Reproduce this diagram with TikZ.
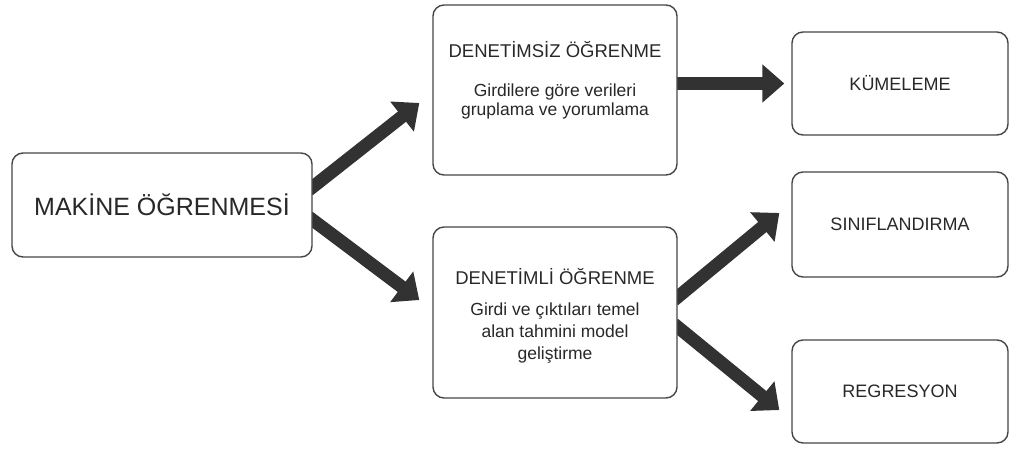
\documentclass[tikz,border=0pt]{standalone}
\usepackage{fontspec}
\setmainfont{Liberation Sans}
\usepackage{tikz}
\usetikzlibrary{arrows.meta}
\usetikzlibrary{positioning}
\usetikzlibrary{backgrounds}

\definecolor{boxline}{RGB}{70,70,70}
\definecolor{arrowgray}{RGB}{50,50,50}
\definecolor{txtgray}{RGB}{40,40,40}

\begin{document}
\begin{tikzpicture}[x=1pt,y=-1pt,
  box/.style={draw=boxline,fill=white,line width=1.4pt,rounded corners=11pt,inner sep=0pt},
  bigarrow/.style={arrowgray,line width=13pt,-{Triangle[length=22pt,width=37pt]},shorten <=-5pt},
  txt/.style={text=txtgray,inner sep=0pt}]

\useasboundingbox (0,0) rectangle (1010,450);

\node[box,minimum width=300pt,minimum height=104pt,text=txtgray,font=\fontsize{25}{30}\selectfont] (main) at (162,205) {MAKİNE ÖĞRENMESİ};

\node[box,minimum width=244pt,minimum height=170pt] (unsup) at (555,90) {};
\node[box,minimum width=244pt,minimum height=171pt] (sup) at (555,312.5) {};

\node[box,minimum width=216pt,minimum height=103pt,text=txtgray,font=\fontsize{18}{21}\selectfont] (kume) at (900,83.5) {KÜMELEME};
\node[box,minimum width=216pt,minimum height=105pt,text=txtgray,font=\fontsize{18}{21}\selectfont] (sinif) at (900,224.5) {SINIFLANDIRMA};
\node[box,minimum width=216pt,minimum height=103pt,text=txtgray,font=\fontsize{18}{21}\selectfont] (regr) at (900,391.5) {REGRESYON};

% box texts
\node[txt,font=\fontsize{18.5}{22}\selectfont] (unsuptitle) at ([yshift=-45pt]unsup.north) {DENETİMSİZ ÖĞRENME};
\node[txt,anchor=north,align=center,font=\fontsize{17.5}{19.5}\selectfont] (unsupbody) at ([yshift=-79pt]unsup.north) {Girdilere göre verileri\\gruplama ve yorumlama};

\node[txt,font=\fontsize{18.5}{22}\selectfont] (suptitle) at ([yshift=-50pt]sup.north) {DENETİMLİ ÖĞRENME};
\node[txt,anchor=north,align=center,font=\fontsize{17.5}{22}\selectfont] (supbody) at ([yshift=-76pt]sup.north) {Girdi ve çıktıları temel\\alan tahmini model\\geliştirme};

\begin{pgfonlayer}{background}
\draw[bigarrow] ([yshift=18pt]main.east) -- ([xshift=-13pt,yshift=-13pt]unsup.west); %1
\draw[bigarrow] ([yshift=-15pt]main.east) -- ([xshift=-13pt,yshift=12.5pt]sup.west); %2
\draw[bigarrow] (unsup.east |- kume.west) -- ([xshift=-7pt]kume.west); %3
\draw[bigarrow] ([yshift=15.5pt]sup.east) -- ([xshift=-12pt,yshift=11.5pt]sinif.west); %4
\draw[bigarrow] ([yshift=-14.5pt]sup.east) -- ([xshift=-12pt,yshift=-18.5pt]regr.west); %5
\end{pgfonlayer}

\end{tikzpicture}
\end{document}
